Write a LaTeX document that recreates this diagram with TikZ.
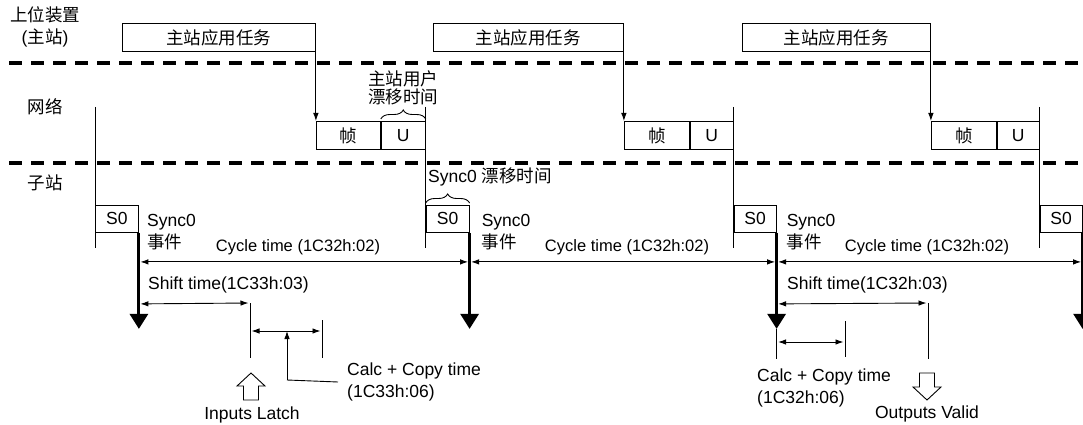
\documentclass[tikz,border=0pt]{standalone}
\usepackage{fontspec}
\setmainfont{Liberation Sans}
\newfontfamily\cjk{Noto Sans CJK SC}
\usetikzlibrary{arrows.meta, positioning, calc, decorations.pathreplacing}

\begin{document}
\begin{tikzpicture}[x=1pt, y=-1pt, >={Latex[length=8pt,width=5.5pt]}, line join=miter,
    every node/.style={font=\fontsize{17.5}{22}\selectfont, inner sep=0pt},
    tbox/.style={draw, line width=0.9pt, anchor=north west, minimum height=28pt},
    wire/.style={line width=0.9pt},
    dim/.style={line width=0.9pt, <->, shorten <=1.5pt, shorten >=1.5pt},
    sepline/.style={line width=3.5pt, dash pattern=on 13pt off 9pt},
    bigarrow/.style={line width=3pt, -{Triangle[length=15pt,width=18pt]}},
    hollow/.style={draw, line width=0.9pt, fill=white},
    brace/.style={decorate, decoration={brace, amplitude=9pt}, line width=0.9pt},
    small/.style={font=\fontsize{16.5}{18.5}\selectfont}]
      \useasboundingbox (0,0) rectangle (1083,425);
      % row labels and separators
      \node[align=center] (host) at (45,26.5) {{\cjk 上位装置}\\({\cjk 主站})};
      \node (net) at (45,107) {\cjk 网络};
      \node (slave) at (45,183) {\cjk 子站};
      \draw[sepline] (9,63) -- (1090,63);
      \draw[sepline] (9,163) -- (1090,163);
      % master application tasks
      \node[tbox, minimum width=193pt] (task1) at (122,23) {\cjk 主站应用任务};
      \node[tbox, minimum width=190pt] (task2) at (433,23) {\cjk 主站应用任务};
      \node[tbox, minimum width=188pt] (task3) at (742,23) {\cjk 主站应用任务};
      % frames on the network
      \node[tbox, minimum width=64pt] (frm1) at (task1.south east |- 0,121) {\cjk 帧};
      \node[tbox, minimum width=44pt, right=0pt of frm1] (u1) {U};
      \node[tbox, minimum width=65pt] (frm2) at (task2.south east |- 0,121) {\cjk 帧};
      \node[tbox, minimum width=43pt, right=0pt of frm2] (u2) {U};
      \node[tbox, minimum width=65pt] (frm3) at (task3.south east |- 0,121) {\cjk 帧};
      \node[tbox, minimum width=42pt, right=0pt of frm3] (u3) {U};
      \draw[wire, ->] (task1.south east) -- (frm1.north west);
      \draw[wire, ->] (task2.south east) -- (frm2.north west);
      \draw[wire, ->] (task3.south east) -- (frm3.north west);
      % Sync0 on the slaves
      \node[tbox, minimum width=43pt, minimum height=27pt] (s1) at (95,205) {S0};
      \node[tbox, minimum width=43pt, minimum height=27pt] (s2) at (u1.east |- 0,205) {S0};
      \node[tbox, minimum width=42pt, minimum height=27pt] (s3) at (u2.east |- 0,205) {S0};
      \node[tbox, minimum width=42pt, minimum height=27pt] (s4) at (u3.east |- 0,205) {S0};
      \draw[wire] (s1.west |- 0,107) -- ($(s1.south west)+(0,15)$);
      \draw[wire] (u1.east |- 0,107) -- ($(s2.south west)+(0,15)$);
      \draw[wire] (u2.east |- 0,107) -- ($(s3.south west)+(0,15)$);
      \draw[wire] (u3.east |- 0,107) -- ($(s4.south west)+(0,15)$);
      \draw[brace] ($(u1.north west)+(0,-2)$) -- ($(u1.north east)+(0,-2)$);
      \node[align=center, font={\cjk\fontsize{17.5}{18.5}\selectfont}] (mdrift) at ($(u1.north)+(0,-33)$) {主站用户\\漂移时间};
      \draw[brace] ($(s2.north west)+(0,-2)$) -- ($(s2.north east)+(0,-2)$);
      \node[anchor=west] (sdrift) at (428,177) {Sync0 {\cjk 漂移时间}};
      \node[align=left, anchor=west] (ev1) at ($(s1.east)+(8,13)$) {Sync0\\{\cjk 事件}};
      \node[align=left, anchor=west] (ev2) at ($(s2.east)+(12,13)$) {Sync0\\{\cjk 事件}};
      \node[align=left, anchor=west] (ev3) at ($(s3.east)+(10,13)$) {Sync0\\{\cjk 事件}};
      % cycle time
      \draw[dim] ($(s1.south east)+(0,29)$) -- ($(s2.south east)+(0,29)$);
      \draw[dim] ($(s2.south east)+(0,29)$) -- ($(s3.south east)+(0,29)$);
      \draw[dim] ($(s3.south east)+(0,29)$) -- ($(s4.south east)+(0,29)$);
      \node[small] (cyc1) at (298,247) {Cycle time (1C32h:02)};
      \node[small] (cyc2) at (627,247) {Cycle time (1C32h:02)};
      \node[small] (cyc3) at (927,247) {Cycle time (1C32h:02)};
      \draw[bigarrow] (s1.south east) -- ++(0,96);
      \draw[bigarrow] (s2.south east) -- ++(0,96);
      \draw[bigarrow] (s3.south east) -- ++(0,96);
      \draw[bigarrow] (s4.south east) -- ++(0,96);
      % inputs side
      \coordinate (latch) at (250,303);
      \coordinate (cend1) at (322,331);
      \coordinate (ptr1) at (287,380);
      \node[anchor=west] (shift1) at (148,285) {Shift time(1C33h:03)};
      \draw[dim] ($(s1.south east)+(0,71)$) -- (latch);
      \draw[wire] (latch) -- ++(0,55);
      \draw[dim] (latch |- cend1) -- (cend1);
      \draw[wire] (cend1) ++(0,-11) -- ++(0,38);
      \node[align=left, anchor=west, inner xsep=9pt] (calc1) at (338,382) {Calc + Copy time\\(1C33h:06)};
      \draw[wire, ->] (ptr1) -- (ptr1 |- cend1);
      \draw[wire] (ptr1) -- (calc1.west);
      \draw[hollow] (251,373) -- (265,386) -- (258.5,386) -- (258.5,400) -- (243.5,400) -- (243.5,386) -- (237,386) -- cycle;
      \node (inlatch) at (252,415) {Inputs Latch};
      % outputs side
      \coordinate (valid) at (928,303);
      \coordinate (cend2) at (845,342);
      \node[anchor=west] (shift2) at (787,285) {Shift time(1C32h:03)};
      \draw[dim] ($(s3.south east)+(0,71)$) -- (valid);
      \draw[wire] (valid) -- ++(0,56);
      \draw[wire] ($(s3.south east)+(0,96)$) -- (s3.south east |- 0,359);
      \draw[dim] (s3.south east |- cend2) -- (cend2);
      \draw[wire] (cend2) ++(0,-21) -- ++(0,36);
      \node[align=left, anchor=west] (calc2) at (757,387.5) {Calc + Copy time\\(1C32h:06)};
      \draw[hollow] (927,400) -- (941,387) -- (934.5,387) -- (934.5,373) -- (919.5,373) -- (919.5,387) -- (913,387) -- cycle;
      \node (outvalid) at (927,414) {Outputs Valid};
    \end{tikzpicture}
\end{document}
